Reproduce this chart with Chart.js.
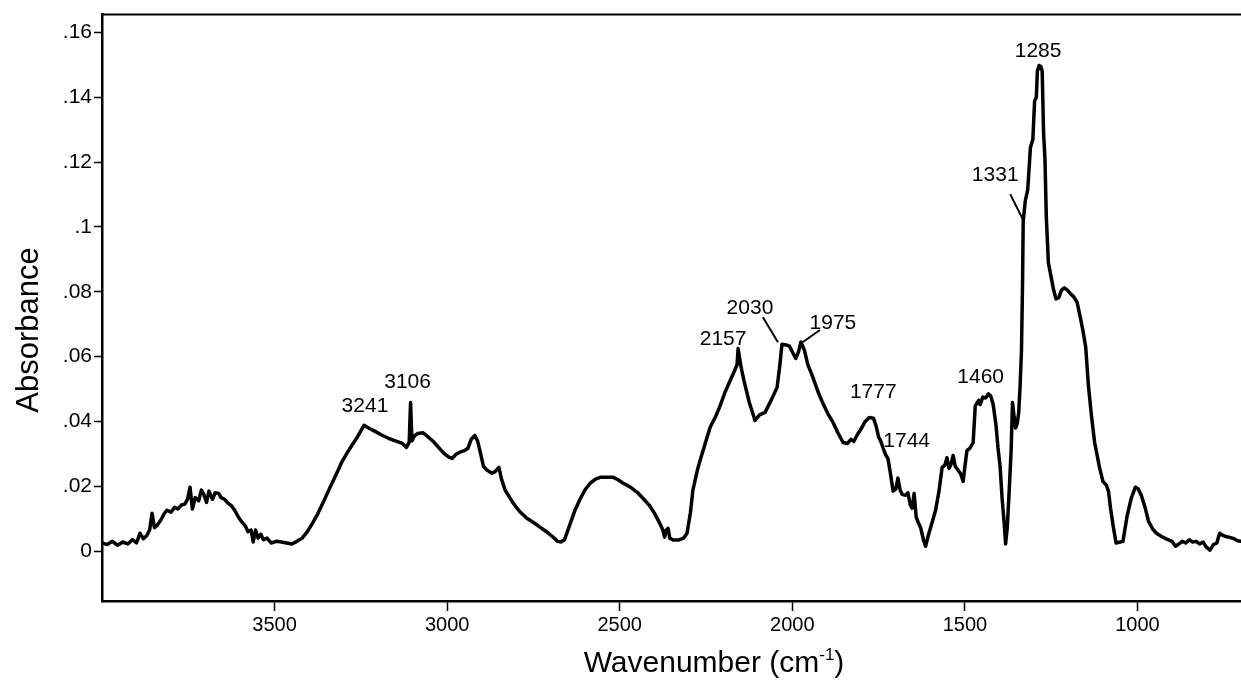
<!DOCTYPE html>
<html>
<head>
<meta charset="utf-8">
<title>IR spectrum</title>
<script src="https://cdn.jsdelivr.net/npm/chart.js@4.4.3/dist/chart.umd.min.js"></script>
<style>
  html, body { margin: 0; padding: 0; background: #fff; }
  canvas { display: block; }
</style>
</head>
<body>
<canvas id="ir" width="1241" height="683"></canvas>
<script>
// ---------- spectrum ----------
const wavenumber = [
  4000, 3985, 3970, 3955, 3940, 3925, 3912, 3900, 3890, 3880, 3870, 3862, 3855, 3848, 3840, 3830,
  3820, 3812, 3800, 3790, 3780, 3770, 3760, 3752, 3745, 3738, 3730, 3720, 3712, 3705, 3697, 3690,
  3680, 3672, 3662, 3655, 3645, 3635, 3625, 3615, 3605, 3595, 3585, 3577, 3568, 3562, 3555, 3548,
  3540, 3532, 3522, 3510, 3495, 3480, 3465, 3450, 3435, 3420, 3405, 3390, 3375, 3360, 3340, 3320,
  3305, 3290, 3275, 3260, 3241, 3225, 3210, 3190, 3170, 3150, 3130, 3118, 3110, 3106, 3102, 3095,
  3085, 3070, 3055, 3040, 3025, 3010, 2995, 2985, 2975, 2963, 2950, 2940, 2930, 2920, 2912, 2905,
  2895, 2885, 2870, 2861, 2850, 2842, 2832, 2810, 2790, 2770, 2750, 2731, 2710, 2695, 2680, 2670,
  2660, 2645, 2630, 2615, 2600, 2585, 2570, 2555, 2540, 2520, 2505, 2491, 2470, 2450, 2430, 2415,
  2400, 2385, 2375, 2370, 2365, 2360, 2355, 2345, 2330, 2315, 2305, 2295, 2288, 2275, 2267, 2250,
  2238, 2220, 2209, 2195, 2180, 2168, 2160, 2157, 2148, 2140, 2125, 2108, 2095, 2079, 2060, 2044,
  2036, 2030, 2018, 2008, 2000, 1990, 1982, 1975, 1965, 1955, 1940, 1925, 1911, 1895, 1882, 1868,
  1853, 1840, 1830, 1822, 1810, 1800, 1790, 1777, 1765, 1757, 1750, 1744, 1737, 1730, 1723, 1715,
  1708, 1700, 1694, 1688, 1682, 1672, 1665, 1658, 1653, 1647, 1641, 1635, 1628, 1620, 1614, 1605,
  1595, 1585, 1575, 1566, 1558, 1552, 1546, 1540, 1534, 1528, 1520, 1512, 1505, 1500, 1494, 1485,
  1476, 1470, 1460, 1456, 1448, 1440, 1432, 1425, 1418, 1410, 1404, 1398, 1392, 1386, 1382, 1377,
  1372, 1366, 1362, 1358, 1353, 1348, 1344, 1340, 1336, 1333, 1331, 1325, 1318, 1310, 1303, 1298,
  1293, 1290, 1285, 1280, 1276, 1272, 1268, 1264, 1258, 1250, 1243, 1236, 1228, 1220, 1212, 1203,
  1195, 1185, 1175, 1166, 1158, 1150, 1142, 1133, 1124, 1110, 1100, 1090, 1084, 1078, 1070, 1062,
  1050, 1042, 1030, 1018, 1006, 998, 988, 978, 968, 956, 945, 930, 915, 900, 890, 880,
  870, 860, 850, 840, 830, 820, 810, 800, 790, 780, 770, 762, 755, 745, 735, 720,
  710, 700
];
const absorbance = [
  0.0025, 0.0020, 0.0030, 0.0018, 0.0028, 0.0022, 0.0035, 0.0025, 0.0055, 0.0038, 0.0048, 0.0065, 0.0117, 0.0072, 0.0080, 0.0095,
  0.0115, 0.0126, 0.0120, 0.0135, 0.0130, 0.0142, 0.0145, 0.0160, 0.0197, 0.0130, 0.0165, 0.0155, 0.0188, 0.0175, 0.0150, 0.0185,
  0.0160, 0.0180, 0.0178, 0.0165, 0.0160, 0.0148, 0.0140, 0.0125, 0.0105, 0.0090, 0.0078, 0.0060, 0.0065, 0.0028, 0.0065, 0.0040,
  0.0052, 0.0035, 0.0040, 0.0025, 0.0030, 0.0028, 0.0025, 0.0022, 0.0030, 0.0040, 0.0060, 0.0086, 0.0115, 0.0148, 0.0195, 0.0240,
  0.0275, 0.0302, 0.0328, 0.0352, 0.0388, 0.0378, 0.0370, 0.0358, 0.0348, 0.0340, 0.0332, 0.0320, 0.0335, 0.0458, 0.0340, 0.0355,
  0.0363, 0.0365, 0.0352, 0.0338, 0.0320, 0.0302, 0.0290, 0.0286, 0.0298, 0.0305, 0.0310, 0.0317, 0.0345, 0.0357, 0.0340, 0.0310,
  0.0262, 0.0250, 0.0240, 0.0245, 0.0258, 0.0220, 0.0188, 0.0150, 0.0122, 0.0102, 0.0088, 0.0074, 0.0058, 0.0045, 0.0030, 0.0028,
  0.0035, 0.0080, 0.0125, 0.0160, 0.0190, 0.0210, 0.0222, 0.0228, 0.0228, 0.0228, 0.0220, 0.0210, 0.0198, 0.0182, 0.0160, 0.0142,
  0.0118, 0.0088, 0.0065, 0.0043, 0.0065, 0.0070, 0.0040, 0.0034, 0.0034, 0.0040, 0.0055, 0.0120, 0.0188, 0.0250, 0.0280, 0.0340,
  0.0382, 0.0420, 0.0449, 0.0490, 0.0526, 0.0555, 0.0575, 0.0625, 0.0565, 0.0526, 0.0460, 0.0403, 0.0420, 0.0428, 0.0468, 0.0505,
  0.0575, 0.0638, 0.0636, 0.0632, 0.0615, 0.0594, 0.0615, 0.0645, 0.0620, 0.0575, 0.0535, 0.0490, 0.0455, 0.0420, 0.0397, 0.0365,
  0.0335, 0.0332, 0.0345, 0.0338, 0.0362, 0.0378, 0.0398, 0.0412, 0.0410, 0.0385, 0.0352, 0.0340, 0.0318, 0.0298, 0.0286, 0.0235,
  0.0185, 0.0192, 0.0225, 0.0190, 0.0175, 0.0172, 0.0180, 0.0142, 0.0132, 0.0178, 0.0105, 0.0088, 0.0072, 0.0035, 0.0015, 0.0052,
  0.0088, 0.0125, 0.0185, 0.0258, 0.0265, 0.0288, 0.0255, 0.0268, 0.0295, 0.0262, 0.0250, 0.0238, 0.0215, 0.0260, 0.0310, 0.0318,
  0.0335, 0.0448, 0.0465, 0.0452, 0.0475, 0.0472, 0.0485, 0.0478, 0.0452, 0.0390, 0.0318, 0.0262, 0.0160, 0.0085, 0.0022, 0.0075,
  0.0178, 0.0310, 0.0458, 0.0420, 0.0380, 0.0395, 0.0428, 0.0510, 0.0618, 0.0820, 0.1018, 0.1080, 0.1114, 0.1246, 0.1270, 0.1388,
  0.1400, 0.1480, 0.1498, 0.1495, 0.1480, 0.1290, 0.1210, 0.1030, 0.0889, 0.0845, 0.0806, 0.0778, 0.0782, 0.0805, 0.0812, 0.0805,
  0.0795, 0.0785, 0.0768, 0.0723, 0.0680, 0.0630, 0.0510, 0.0415, 0.0335, 0.0258, 0.0215, 0.0203, 0.0185, 0.0132, 0.0075, 0.0025,
  0.0028, 0.0030, 0.0108, 0.0163, 0.0197, 0.0192, 0.0169, 0.0135, 0.0092, 0.0068, 0.0055, 0.0045, 0.0037, 0.0030, 0.0015, 0.0022,
  0.0030, 0.0025, 0.0035, 0.0028, 0.0030, 0.0022, 0.0028, 0.0012, 0.0003, 0.0020, 0.0025, 0.0055, 0.0050, 0.0045, 0.0043, 0.0038,
  0.0032, 0.0030
];

// axis ticks
const xTicks = [3500, 3000, 2500, 2000, 1500, 1000];
const xTickLabels = ["3500", "3000", "2500", "2000", "1500", "1000"];
const yTicks = [0, 0.02, 0.04, 0.06, 0.08, 0.1, 0.12, 0.14, 0.16];
const yTickLabels = ["0", ".02", ".04", ".06", ".08", ".1", ".12", ".14", ".16"];

// labelled bands
const peakWavenumbers = [3241, 3106, 2157, 2030, 1975, 1777, 1744, 1460, 1331, 1285];
const peakLabels = ["3241", "3106", "2157", "2030", "1975", "1777", "1744", "1460", "1331", "1285"];

// where each label sits relative to its band (px), and optional leader line
const labelOffsets = [[1, -19], [-3, -20], [-15, -9], [-32, -36], [32, -19], [4, -25], [26, 0], [2, -23], [-28, -46], [-1, -14]];
const labelLeaders = [null, null, null, [-19, -27, -4, -2], [19, -12, 2, 0], null, null, null, [-13, -27, 0, -1], null];

const FONT = "'Liberation Sans', Arial, Helvetica, sans-serif";

const points = wavenumber.map((w, i) => ({ x: w, y: absorbance[i] }));

const frame = {
  id: "frame",
  afterDraw(chart) {
    const { ctx, chartArea: a, scales } = chart;
    ctx.save();
    // top edge of the box
    ctx.strokeStyle = "#000";
    ctx.lineWidth = 2;
    ctx.beginPath();
    ctx.moveTo(a.left, a.top);
    ctx.lineTo(a.right, a.top);
    ctx.stroke();

    // band labels
    ctx.fillStyle = "#000";
    ctx.font = "21px " + FONT;
    ctx.textAlign = "center";
    ctx.textBaseline = "middle";
    ctx.lineWidth = 2;
    peakWavenumbers.forEach((w, i) => {
      const v = absorbance[wavenumber.indexOf(w)];
      const px = scales.x.getPixelForValue(w);
      const py = scales.y.getPixelForValue(v);
      const [dx, dy] = labelOffsets[i];
      ctx.fillText(peakLabels[i], px + dx, py + dy);
      const l = labelLeaders[i];
      if (l) {
        ctx.beginPath();
        ctx.moveTo(px + l[0], py + l[1]);
        ctx.lineTo(px + l[2], py + l[3]);
        ctx.stroke();
      }
    });

    // y title
    ctx.font = "31px " + FONT;
    ctx.save();
    ctx.translate(29, 330);
    ctx.rotate(-Math.PI / 2);
    ctx.fillText("Absorbance", 0, 0);
    ctx.restore();

    // x title with superscript
    const main = "Wavenumber (cm";
    const sup = "-1";
    const close = ")";
    ctx.font = "30px " + FONT;
    const wMain = ctx.measureText(main).width;
    const wClose = ctx.measureText(close).width;
    ctx.font = "17px " + FONT;
    const wSup = ctx.measureText(sup).width;
    let x = 714 - (wMain + wSup + wClose) / 2;
    const y = 664;
    ctx.textAlign = "left";
    ctx.font = "30px " + FONT;
    ctx.fillText(main, x, y);
    x += wMain;
    ctx.font = "17px " + FONT;
    ctx.fillText(sup, x, y - 9);
    x += wSup;
    ctx.font = "30px " + FONT;
    ctx.fillText(close, x, y);
    ctx.restore();
  },
};

new Chart(document.getElementById("ir"), {
  type: "line",
  data: {
    datasets: [{
      data: points,
      borderColor: "#000",
      borderWidth: 3.5,
      borderJoinStyle: "round",
      borderCapStyle: "round",
      pointRadius: 0,
      tension: 0,
      fill: false,
    }],
  },
  options: {
    responsive: false,
    animation: false,
    layout: { padding: { top: 11, right: 0, left: 0, bottom: 0 } },
    plugins: { legend: { display: false }, tooltip: { enabled: false } },
    scales: {
      x: {
        type: "linear",
        reverse: true,
        min: 700,
        max: 4000,
        afterFit: (s) => { s.height = 82; },
        afterBuildTicks: (s) => { s.ticks = xTicks.map((v) => ({ value: v })); },
        grid: { drawOnChartArea: false, drawTicks: true, tickLength: 10, tickColor: "#000", tickWidth: 1.5 },
        border: { color: "#000", width: 2.5 },
        ticks: {
          color: "#000",
          padding: 2,
          maxRotation: 0,
          font: { family: FONT, size: 20 },
          callback: (v, i) => xTickLabels[i],
        },
      },
      y: {
        min: -0.0154,
        max: 0.1655,
        afterFit: (s) => { s.width = 102; },
        afterBuildTicks: (s) => { s.ticks = yTicks.map((v) => ({ value: v })); },
        grid: { drawOnChartArea: false, drawTicks: true, tickLength: 8, tickColor: "#000", tickWidth: 1.5 },
        border: { color: "#000", width: 2.5 },
        ticks: {
          color: "#000",
          padding: 2,
          font: { family: FONT, size: 21 },
          callback: (v, i) => yTickLabels[i],
        },
      },
    },
  },
  plugins: [frame],
});
</script>
</body>
</html>
